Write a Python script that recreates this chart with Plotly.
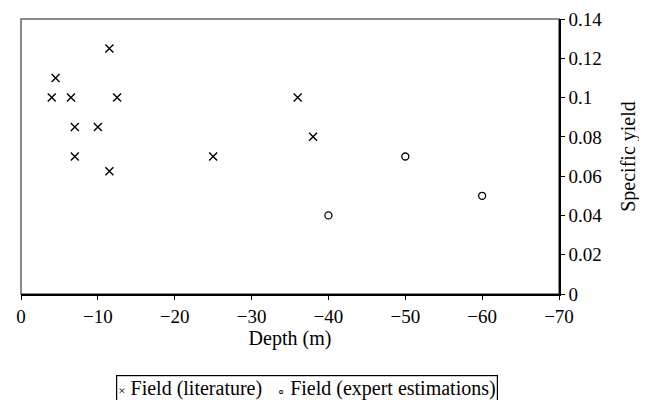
import plotly.graph_objects as go

# Field (literature) points: depth (m, negative) and specific yield
lit_depth = [-11.5, -4.5, -4, -6.5, -12.5, -7, -10, -7, -11.5, -25, -36, -38]
lit_sy = [0.125, 0.11, 0.1, 0.1, 0.1, 0.085, 0.085, 0.07, 0.0625, 0.07, 0.1, 0.08]

# Field (expert estimations)
exp_depth = [-40, -50, -60]
exp_sy = [0.04, 0.07, 0.05]

x_ticks = [0, -10, -20, -30, -40, -50, -60, -70]
y_ticks = [0, 0.02, 0.04, 0.06, 0.08, 0.1, 0.12, 0.14]
y_labels = ["0", "0.02", "0.04", "0.06", "0.08", "0.1", "0.12", "0.14"]

serif = "Liberation Serif"
f_tick = dict(family=serif, size=19, color="black")
f_title = dict(family=serif, size=20, color="black")

fig = go.Figure()
fig.add_trace(go.Scatter(
    x=lit_depth, y=lit_sy, mode="markers", name="Field (literature)",
    marker=dict(symbol="x-thin-open", size=8, color="black",
                line=dict(color="black", width=1.4))))
fig.add_trace(go.Scatter(
    x=exp_depth, y=exp_sy, mode="markers", name="Field (expert estimations)",
    marker=dict(symbol="circle-open", size=7, color="black",
                line=dict(color="black", width=1.3))))

# grey frame on top/left
fig.add_shape(type="rect", xref="paper", yref="paper", x0=0, x1=1, y0=0, y1=1,
              line=dict(color="#666666", width=1.5), layer="below")

# legend drawn as a boxed annotation (compact, like the original)
small = "<span style='font-size:13px'>%s</span>"
legend_txt = (small % "×") + " Field (literature)   " + (small % "∘") + " Field (expert estimations)"
fig.add_annotation(text=legend_txt, xref="paper", yref="paper", x=0.5307, y=-0.342,
                   xanchor="center", yanchor="middle", showarrow=False,
                   font=f_title, bordercolor="black", borderwidth=1.2, borderpad=1,
                   bgcolor="white")

# the page body adds an 8px offset, so the figure is a bit smaller than the window
fig.update_layout(
    width=639, height=392,
    margin=dict(l=13, r=88, t=11, b=106, autoexpand=False),
    paper_bgcolor="white", plot_bgcolor="white",
    font=f_tick,
    showlegend=False,
    xaxis=dict(range=[0, -70], tickvals=x_ticks, showgrid=False, zeroline=False,
               showline=True, linecolor="black", linewidth=1.5, automargin=False,
               ticks="outside", ticklen=4, tickcolor="black", tickfont=f_tick,
               title=dict(text="Depth (m)", standoff=2, font=f_title)),
    yaxis=dict(range=[0, 0.14], tickvals=y_ticks, ticktext=y_labels, side="right",
               showgrid=False, zeroline=False, showline=True, linecolor="black",
               linewidth=1.5, ticks="outside", ticklen=4, tickcolor="black",
               automargin=False, tickfont=f_tick,
               title=dict(text="Specific yield", standoff=20, font=f_title)),
)

fig.write_html("out.html")
